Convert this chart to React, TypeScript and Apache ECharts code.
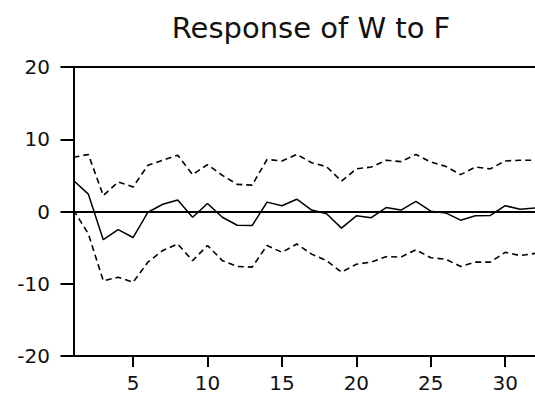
import React, { useEffect, useRef } from "react";
import * as echarts from "echarts";

const periods = [1, 2, 3, 4, 5, 6, 7, 8, 9, 10, 11, 12, 13, 14, 15, 16, 17, 18, 19, 20, 21, 22, 23, 24, 25, 26, 27, 28, 29, 30, 31, 32];
const response = [4.3, 2.4, -3.9, -2.5, -3.6, -0.1, 1.0, 1.6, -0.8, 1.1, -0.8, -1.9, -1.95, 1.3, 0.8, 1.7, 0.2, -0.3, -2.3, -0.6, -0.85, 0.55, 0.2, 1.4, 0.05, -0.2, -1.2, -0.6, -0.55, 0.8, 0.3, 0.5];
const upperBand = [7.5, 7.9, 2.2, 4.1, 3.4, 6.4, 7.1, 7.8, 5.1, 6.5, 5.0, 3.75, 3.65, 7.2, 7.0, 7.9, 6.75, 6.2, 4.2, 5.9, 6.15, 7.1, 6.9, 7.9, 6.85, 6.25, 5.1, 6.15, 5.9, 7.0, 7.1, 7.1];
const lowerBand = [0.2, -3.1, -9.6, -9.1, -9.8, -7.0, -5.4, -4.5, -6.8, -4.7, -6.8, -7.6, -7.7, -4.7, -5.65, -4.5, -5.9, -6.8, -8.4, -7.3, -7.0, -6.25, -6.3, -5.3, -6.4, -6.6, -7.6, -7.0, -7.0, -5.65, -6.1, -5.8];
const yTicks = { min: -20, max: 20, interval: 10 };
const titleText = "Response of W to F";

export default function App() {
  const ref = useRef<HTMLDivElement>(null);
  useEffect(() => {
    document.body.style.margin = "0";
    if (!ref.current) return;
    const chart = echarts.init(ref.current, undefined, { renderer: "svg" });
    const font = "DejaVu Sans";
    const dashed = { color: "#000", width: 1.6, type: [6, 4] as number[] };
    const cats = periods.map(String);
    chart.setOption({
      animation: false,
      backgroundColor: "#fff",
      title: {
        text: titleText,
        left: 306,
        top: 8,
        textAlign: "center",
        textStyle: { fontFamily: font, fontSize: 29, fontWeight: "normal", color: "#111" },
      },
      grid: {
        left: 73.5,
        top: 67,
        bottom: 38,
        right: -2,
        show: false,
      },
      xAxis: [
        {
          type: "category",
          data: cats,
          boundaryGap: false,
          axisLine: { show: true, onZero: false, lineStyle: { color: "#000", width: 2 } },
          axisTick: {
            show: true,
            length: 11,
            interval: (i: number) => (i + 1) % 5 === 0,
            lineStyle: { color: "#000", width: 2 },
          },
          axisLabel: {
            interval: (i: number) => (i + 1) % 5 === 0,
            margin: 17,
            fontFamily: font,
            fontSize: 20,
            color: "#111",
          },
          splitLine: { show: false },
        },
        {
          type: "category",
          data: cats,
          boundaryGap: false,
          position: "top",
          axisLine: { show: true, onZero: false, lineStyle: { color: "#000", width: 2 } },
          axisTick: { show: false },
          axisLabel: { show: false },
          splitLine: { show: false },
        },
      ],
      yAxis: {
        type: "value",
        min: yTicks.min,
        max: yTicks.max,
        interval: yTicks.interval,
        axisLine: { show: true, lineStyle: { color: "#000", width: 2 } },
        axisTick: { show: true, length: 13, lineStyle: { color: "#000", width: 2 } },
        axisLabel: { margin: 23.5, fontFamily: font, fontSize: 20, color: "#111" },
        splitLine: { show: false },
      },
      series: [
        {
          type: "line",
          data: response,
          symbol: "none",
          lineStyle: { color: "#000", width: 1.5 },
          markLine: {
            silent: true,
            symbol: "none",
            label: { show: false },
            lineStyle: { color: "#000", width: 2, type: "solid" },
            data: [{ yAxis: 0 }],
          },
        },
        { type: "line", data: upperBand, symbol: "none", lineStyle: dashed },
        { type: "line", data: lowerBand, symbol: "none", lineStyle: dashed },
      ],
    });
    return () => chart.dispose();
  }, []);
  return <div ref={ref} style={{ width: 535, height: 394 }} />;
}
